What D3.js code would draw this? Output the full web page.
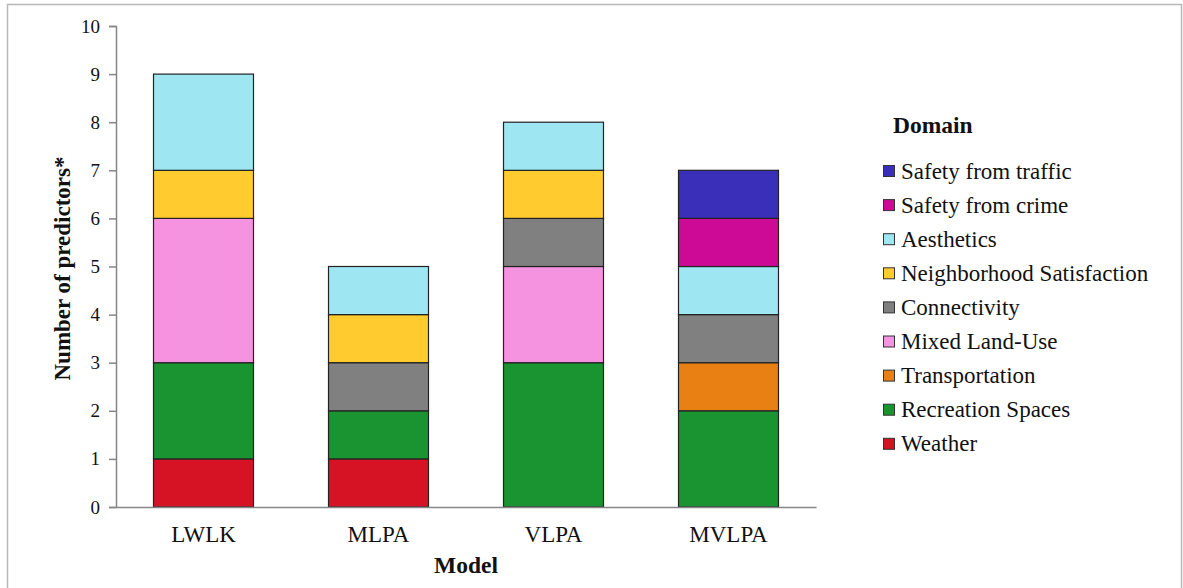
<!DOCTYPE html>
<html>
<head>
<meta charset="utf-8">
<script src="https://cdn.jsdelivr.net/npm/d3@7"></script>
<style>
  html, body { margin: 0; padding: 0; background: #fff; }
  svg { display: block; }
</style>
</head>
<body>
<svg id="chart" width="1183" height="588"></svg>
<script>
// Models on the x axis
const models = ["LWLK", "MLPA", "VLPA", "MVLPA"];

// Domains, stacked bottom to top
const domains = [
  "Weather", "Recreation Spaces", "Transportation", "Mixed Land-Use",
  "Connectivity", "Neighborhood Satisfaction", "Aesthetics",
  "Safety from crime", "Safety from traffic"
];
const domainColors = [
  "#d51324", "#1a9431", "#e88014", "#f593e1",
  "#808080", "#ffcb2f", "#9ee6f1", "#cc0a96", "#3a2fb8"
];

// Number of predictors per domain, one array per model (in domain order)
const lwlk  = [1, 2, 0, 3, 0, 1, 2, 0, 0];
const mlpa  = [1, 1, 0, 0, 1, 1, 1, 0, 0];
const vlpa  = [0, 3, 0, 2, 1, 1, 1, 0, 0];
const mvlpa = [0, 2, 1, 0, 1, 0, 1, 1, 1];

const yTicks = [0, 1, 2, 3, 4, 5, 6, 7, 8, 9, 10];

const FONT = "'Liberation Serif', 'Times New Roman', serif";

const byModel = [lwlk, mlpa, vlpa, mvlpa];
const rows = models.map((m, i) => {
  const r = { model: m };
  domains.forEach((d, j) => { r[d] = byModel[i][j]; });
  return r;
});

const svg = d3.select("#chart").style("font-family", FONT);

// outer frame
svg.append("rect")
  .attr("x", 7.5).attr("y", 4.5)
  .attr("width", 1174).attr("height", 600)
  .attr("fill", "none").attr("stroke", "#b8b8b8").attr("stroke-width", 1.5);

const plot = { left: 116, right: 816, top: 26, bottom: 507 };

const x = d3.scaleBand()
  .domain(models)
  .range([plot.left, plot.right])
  .paddingInner(0.4286)
  .paddingOuter(0.2143);

const y = d3.scaleLinear()
  .domain([0, 10])
  .range([plot.bottom, plot.top]);

const color = d3.scaleOrdinal().domain(domains).range(domainColors);

const series = d3.stack().keys(domains)(rows);

// stacked bars
svg.append("g")
  .selectAll("g.layer")
  .data(series)
  .join("g")
  .attr("class", "layer")
  .attr("fill", d => color(d.key))
  .selectAll("rect")
  .data(d => d.filter(s => s[1] - s[0] > 0))
  .join("rect")
  .attr("x", d => x(d.data.model))
  .attr("width", x.bandwidth())
  .attr("y", d => y(d[1]))
  .attr("height", d => y(d[0]) - y(d[1]))
  .attr("stroke", "#222")
  .attr("stroke-width", 1.2);

// y axis
const yAxis = svg.append("g")
  .attr("transform", `translate(${plot.left},0)`)
  .call(d3.axisLeft(y).tickValues(yTicks).tickSize(7).tickPadding(9).tickFormat(d3.format("d")));
yAxis.select(".domain").attr("stroke", "#868686").attr("stroke-width", 1.5);
yAxis.selectAll(".tick line").attr("stroke", "#868686").attr("stroke-width", 1.5);
yAxis.selectAll(".tick text")
  .style("font-family", FONT)
  .style("font-size", "19px").attr("fill", "#111");

// x axis
const xAxis = svg.append("g")
  .attr("transform", `translate(0,${plot.bottom})`)
  .call(d3.axisBottom(x).tickSize(0).tickPadding(19));
xAxis.select(".domain").attr("stroke", "#868686").attr("stroke-width", 1.5);
xAxis.selectAll(".tick text")
  .style("font-family", FONT)
  .style("font-size", "23px").attr("fill", "#111");

// axis titles
svg.append("text")
  .attr("x", (plot.left + plot.right) / 2)
  .attr("y", 573)
  .attr("text-anchor", "middle")
  .style("font-family", FONT)
  .style("font-weight", "bold")
  .style("font-size", "23.5px")
  .attr("fill", "#111")
  .text("Model");

svg.append("text")
  .attr("transform", `translate(70,${(plot.top + plot.bottom) / 2 + 2}) rotate(-90)`)
  .attr("text-anchor", "middle")
  .style("font-family", FONT)
  .style("font-weight", "bold")
  .style("font-size", "23px")
  .attr("fill", "#111")
  .text("Number of predictors*");

// legend (top entry = top of stack)
const legend = svg.append("g").attr("transform", "translate(883,0)");
legend.append("text")
  .attr("x", 10).attr("y", 133)
  .style("font-family", FONT)
  .style("font-weight", "bold")
  .style("font-size", "23.5px")
  .attr("fill", "#111")
  .text("Domain");

const legendItems = domains.slice().reverse();
const item = legend.selectAll("g.item")
  .data(legendItems)
  .join("g")
  .attr("class", "item")
  .attr("transform", (d, i) => `translate(0,${171 + i * 34.1})`);
item.append("rect")
  .attr("x", 0.5).attr("y", -5.5)
  .attr("width", 11).attr("height", 11)
  .attr("fill", d => color(d))
  .attr("stroke", "#333").attr("stroke-width", 1);
item.append("text")
  .attr("x", 18).attr("y", 7.5)
  .style("font-family", FONT)
  .style("font-size", "23px")
  .attr("fill", "#111")
  .text(d => d);
</script>
</body>
</html>
